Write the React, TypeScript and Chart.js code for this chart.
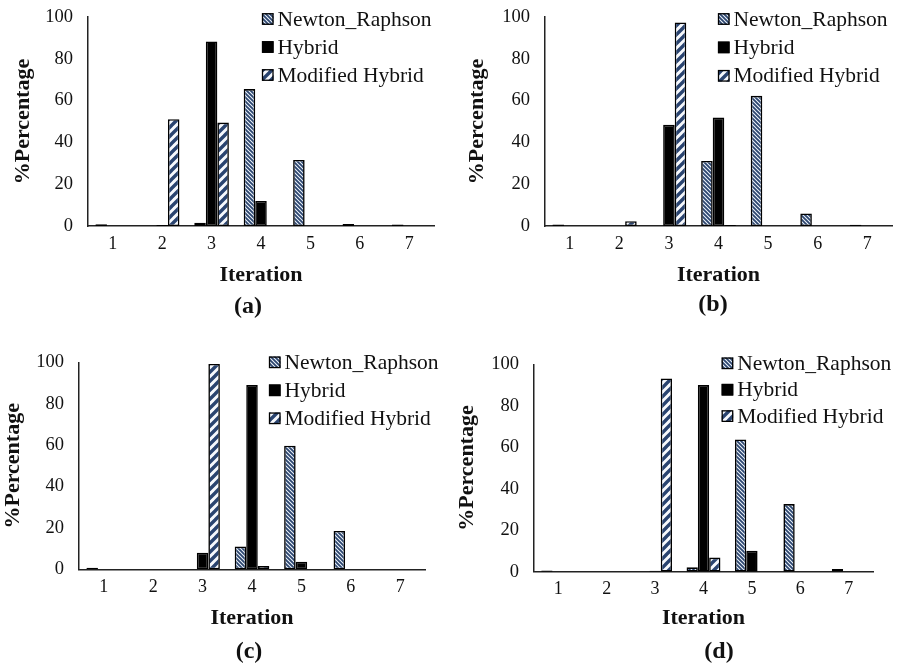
import React, { useEffect, useRef } from 'react';
import { Chart, registerables } from 'chart.js';

Chart.register(...registerables);

// ---------- data ----------
const iterations = ['1', '2', '3', '4', '5', '6', '7'];
const seriesNames = ['Newton_Raphson', 'Hybrid', 'Modified Hybrid'];
const yMin = 0;
const yMax = 100;
const yStep = 20;
const xAxisTitle = 'Iteration';
const yAxisTitle = '%Percentage';
const captions = ['(a)', '(b)', '(c)', '(d)'];

const newtonA = [0.8, 0, 1.5, 65.5, 31.6, 1, 0.7];
const hybridA = [0, 0.5, 88.3, 12, 0, 0, 0];
const modifiedA = [0, 51.1, 49.5, 0, 0, 0, 0];

const newtonB = [0.7, 0, 0, 31.1, 62.3, 6, 0.6];
const hybridB = [0, 0, 48.4, 51.9, 0, 0, 0];
const modifiedB = [0, 2.3, 97.4, 0.5, 0, 0, 0];

const newtonC = [0.8, 0, 0, 11, 59.7, 18.5, 0];
const hybridC = [0, 0, 8, 89, 3.7, 0, 0];
const modifiedC = [0, 0, 99.2, 1.6, 0, 0, 0];

const newtonD = [0.6, 0, 0, 2.1, 63.8, 32.6, 1.3];
const hybridD = [0, 0, 0.4, 90, 10.1, 0, 0];
const modifiedD = [0, 0, 93.2, 6.8, 0, 0, 0];

// ---------- layout / style ----------
const FAMILY = "'Times New Roman', 'Liberation Serif', serif";
const TEXT = '#111';

type PanelCfg = {
  x: number; y: number; w: number; h: number;
  areaLeft: number; areaTop: number; areaRight: number; areaBottom: number;
  xAxisH: number; yTitlePad: number;
  legendX: number; legendY: number; legendGap: number;
  capX: number; capY: number;
  caption: string;
  series: number[][];
};

const panels: PanelCfg[] = [
  { x: 0, y: 0, w: 450, h: 330, areaLeft: 88, areaTop: 17, areaRight: 434, areaBottom: 226, xAxisH: 64, yTitlePad: 9.8,
    legendX: 262, legendY: 19, legendGap: 28, capX: 248, capY: 307, caption: captions[0], series: [newtonA, hybridA, modifiedA] },
  { x: 450, y: 0, w: 451, h: 330, areaLeft: 95, areaTop: 17, areaRight: 442, areaBottom: 226, xAxisH: 64, yTitlePad: 14.3,
    legendX: 268, legendY: 19, legendGap: 28.4, capX: 263, capY: 305, caption: captions[1], series: [newtonB, hybridB, modifiedB] },
  { x: 0, y: 330, w: 450, h: 336, areaLeft: 79, areaTop: 32.3, areaRight: 425, areaBottom: 239.3, xAxisH: 64, yTitlePad: 0.3,
    legendX: 269, legendY: 32.3, legendGap: 28, capX: 249, capY: 321.7, caption: captions[2], series: [newtonC, hybridC, modifiedC] },
  { x: 450, y: 330, w: 451, h: 336, areaLeft: 84, areaTop: 34.3, areaRight: 423, areaBottom: 241.7, xAxisH: 61.6, yTitlePad: 4.3,
    legendX: 271.7, legendY: 33.3, legendGap: 26.4, capX: 269, capY: 322, caption: captions[3], series: [newtonD, hybridD, modifiedD] },
];

function makeStripePattern(ctx: CanvasRenderingContext2D, size: number, bg: string, fg: string, lw: number, down: boolean) {
  const c = document.createElement('canvas');
  c.width = size;
  c.height = size;
  const p = c.getContext('2d')!;
  p.fillStyle = bg;
  p.fillRect(0, 0, size, size);
  p.strokeStyle = fg;
  p.lineWidth = lw;
  p.beginPath();
  for (const k of [-size, 0, size]) {
    if (down) {
      p.moveTo(k - 1, -1);
      p.lineTo(k + size + 1, size + 1);
    } else {
      p.moveTo(k - 1, size + 1);
      p.lineTo(k + size + 1, -1);
    }
  }
  p.stroke();
  return ctx.createPattern(c, 'repeat')!;
}

const cornerPlugin = {
  id: 'corner',
  afterDraw(chart: any, _args: any, opts: any) {
    const { ctx } = chart;
    ctx.save();
    chart.data.datasets.forEach((ds: any, i: number) => {
      const cy = opts.y + i * opts.gap;
      const box = 11.5;
      ctx.fillStyle = ds.backgroundColor;
      ctx.fillRect(opts.x, cy - box / 2, box, box);
      ctx.strokeStyle = '#000';
      ctx.lineWidth = 1.3;
      ctx.strokeRect(opts.x + 0.5, cy - box / 2 + 0.5, box - 1, box - 1);
      ctx.fillStyle = TEXT;
      ctx.font = `21.5px ${FAMILY}`;
      ctx.textAlign = 'left';
      ctx.textBaseline = 'middle';
      ctx.fillText(ds.label, opts.x + box + 4, cy + 1);
    });
    ctx.font = `bold 24px ${FAMILY}`;
    ctx.textAlign = 'center';
    ctx.textBaseline = 'middle';
    ctx.fillStyle = TEXT;
    ctx.fillText(opts.caption, opts.capX, opts.capY);
    ctx.restore();
  },
};

function Panel({ cfg }: { cfg: PanelCfg }) {
  const ref = useRef<HTMLCanvasElement>(null);
  useEffect(() => {
    const canvas = ref.current!;
    const ctx = canvas.getContext('2d')!;
    const nrPattern = makeStripePattern(ctx, 4, '#f0f5fb', '#2c4670', 1.8, true);
    const mhPattern = makeStripePattern(ctx, 9, '#f7f9fd', '#2a4470', 3.4, false);
    const fills: any[] = [nrPattern, '#000000', mhPattern];
    const chart = new Chart(canvas, {
      type: 'bar',
      data: {
        labels: iterations,
        datasets: seriesNames.map((name, i) => ({
          label: name,
          data: cfg.series[i],
          backgroundColor: fills[i],
          borderColor: '#000',
          borderWidth: 1.6,
          borderSkipped: false,
          categoryPercentage: 0.7,
          barPercentage: 1,
        })),
      },
      plugins: [cornerPlugin],
      options: {
        responsive: false,
        animation: false,
        devicePixelRatio: 1,
        layout: {
          padding: {
            left: 0,
            top: cfg.areaTop,
            right: cfg.w - cfg.areaRight,
            bottom: Math.max(0, cfg.h - cfg.areaBottom - cfg.xAxisH),
          },
        },
        plugins: {
          legend: { display: false },
          tooltip: { enabled: false },
          title: { display: false },
          corner: {
            x: cfg.legendX, y: cfg.legendY, gap: cfg.legendGap,
            caption: cfg.caption, capX: cfg.capX, capY: cfg.capY,
          },
        } as any,
        scales: {
          x: {
            grid: { display: false, drawTicks: false },
            border: { display: true, color: '#222', width: 1.5 },
            ticks: { color: TEXT, padding: 7, font: { family: FAMILY, size: 18 } },
            title: {
              display: true, text: xAxisTitle, color: TEXT,
              font: { family: FAMILY, size: 22, weight: 'bold' },
              padding: { top: 0, bottom: 1.8 },
            },
            afterFit: (s: any) => {
              s.height = cfg.xAxisH;
              s.paddingLeft = 0;
              s.paddingRight = 0;
            },
          },
          y: {
            min: yMin,
            max: yMax,
            grid: { display: false, drawTicks: false },
            border: { display: true, color: '#222', width: 1.5 },
            ticks: { stepSize: yStep, color: TEXT, padding: 15, font: { family: FAMILY, size: 18.5 } },
            title: {
              display: true, text: yAxisTitle, color: TEXT,
              font: { family: FAMILY, size: 22, weight: 'bold' },
              padding: { top: cfg.yTitlePad, bottom: 0 },
            },
            afterFit: (s: any) => {
              s.width = cfg.areaLeft;
              s.paddingTop = 0;
              s.paddingBottom = 0;
            },
          },
        },
      } as any,
    });
    return () => chart.destroy();
  }, [cfg]);
  return (
    <canvas
      ref={ref}
      width={cfg.w}
      height={cfg.h}
      style={{ position: 'absolute', left: cfg.x, top: cfg.y, width: cfg.w, height: cfg.h, display: 'block' }}
    />
  );
}

export default function App() {
  return (
    <div style={{ position: 'absolute', left: 0, top: 0, width: 901, height: 666, background: '#fff', overflow: 'hidden' }}>
      {panels.map((p, i) => (
        <Panel key={i} cfg={p} />
      ))}
    </div>
  );
}
